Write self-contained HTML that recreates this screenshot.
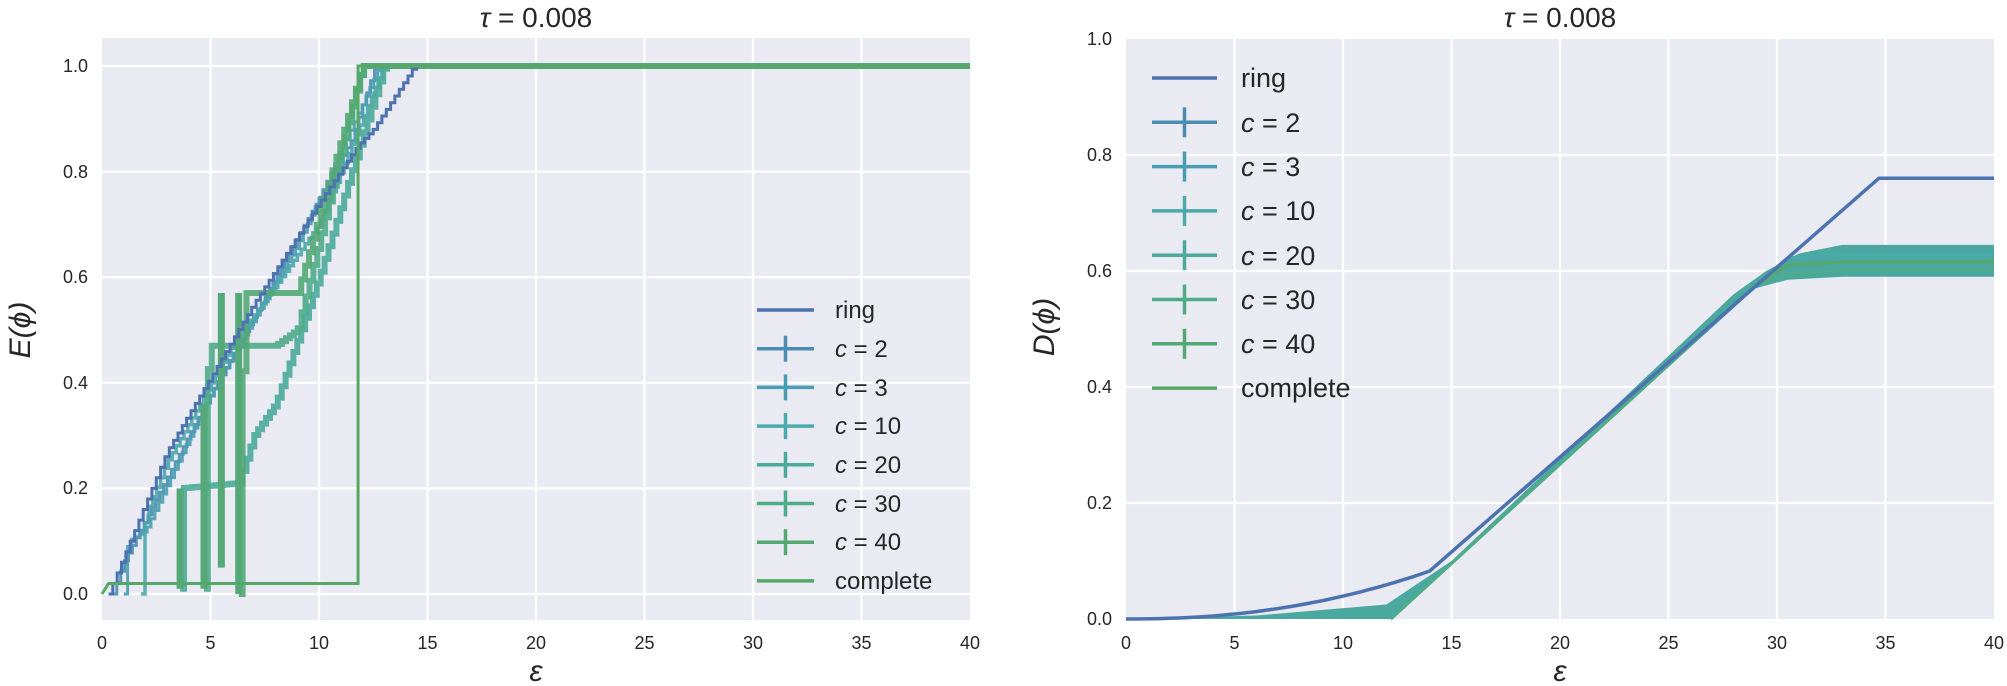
<!DOCTYPE html>
<html><head><meta charset="utf-8"><style>
html,body{margin:0;padding:0;background:#fff;}
svg{display:block;font-family:"Liberation Sans","DejaVu Sans",sans-serif;}
.t{font-size:18px;fill:#262626;}
.lg{fill:#262626;}
</style></head><body>
<svg id="s" width="2007" height="686" viewBox="0 0 2007 686" xmlns="http://www.w3.org/2000/svg">
<rect x="102" y="38" width="868" height="582" fill="#eaeaf2"/>
<g stroke="#fff" stroke-width="2.2">
<line x1="210.5" y1="38" x2="210.5" y2="620"/><line x1="319" y1="38" x2="319" y2="620"/><line x1="427.5" y1="38" x2="427.5" y2="620"/><line x1="536" y1="38" x2="536" y2="620"/><line x1="644.5" y1="38" x2="644.5" y2="620"/><line x1="753" y1="38" x2="753" y2="620"/><line x1="861.5" y1="38" x2="861.5" y2="620"/>
<line x1="102" y1="594" x2="970" y2="594"/><line x1="102" y1="488.4" x2="970" y2="488.4"/><line x1="102" y1="382.8" x2="970" y2="382.8"/><line x1="102" y1="277.2" x2="970" y2="277.2"/><line x1="102" y1="171.6" x2="970" y2="171.6"/><line x1="102" y1="66" x2="970" y2="66"/>
</g>
<g id="L"></g>
<rect x="1126" y="39" width="868" height="580" fill="#eaeaf2"/>
<g stroke="#fff" stroke-width="2.2">
<line x1="1234.5" y1="39" x2="1234.5" y2="619"/><line x1="1343" y1="39" x2="1343" y2="619"/><line x1="1451.5" y1="39" x2="1451.5" y2="619"/><line x1="1560" y1="39" x2="1560" y2="619"/><line x1="1668.5" y1="39" x2="1668.5" y2="619"/><line x1="1777" y1="39" x2="1777" y2="619"/><line x1="1885.5" y1="39" x2="1885.5" y2="619"/>
<line x1="1126" y1="503" x2="1994" y2="503"/><line x1="1126" y1="387" x2="1994" y2="387"/><line x1="1126" y1="271" x2="1994" y2="271"/><line x1="1126" y1="155" x2="1994" y2="155"/>
</g>
<g id="R"></g>
<g class="t" text-anchor="middle">
<text x="102" y="649">0</text><text x="210.5" y="649">5</text><text x="319" y="649">10</text><text x="427.5" y="649">15</text><text x="536" y="649">20</text><text x="644.5" y="649">25</text><text x="753" y="649">30</text><text x="861.5" y="649">35</text><text x="970" y="649">40</text>
<text x="1126" y="649">0</text><text x="1234.5" y="649">5</text><text x="1343" y="649">10</text><text x="1451.5" y="649">15</text><text x="1560" y="649">20</text><text x="1668.5" y="649">25</text><text x="1777" y="649">30</text><text x="1885.5" y="649">35</text><text x="1994" y="649">40</text>
</g>
<g class="t" text-anchor="end">
<text x="88" y="600">0.0</text><text x="88" y="494">0.2</text><text x="88" y="389">0.4</text><text x="88" y="283">0.6</text><text x="88" y="178">0.8</text><text x="88" y="72">1.0</text>
<text x="1112" y="625">0.0</text><text x="1112" y="509">0.2</text><text x="1112" y="393">0.4</text><text x="1112" y="277">0.6</text><text x="1112" y="161">0.8</text><text x="1112" y="45">1.0</text>
</g>
<g fill="#262626" font-size="28" text-anchor="middle">
<text x="536" y="27"><tspan font-style="italic">τ</tspan> = 0.008</text>
<text x="1560" y="27"><tspan font-style="italic">τ</tspan> = 0.008</text>
</g>
<g fill="#262626" font-size="30" font-style="italic" text-anchor="middle">
<text x="536" y="681">ε</text><text x="1560" y="681">ε</text>
<text transform="translate(30,330) rotate(-90)">E(ϕ)</text>
<text transform="translate(1054,327) rotate(-90)">D(ϕ)</text>
</g>
<g id="LG1"></g>
<g id="LG2"></g>
<g fill="#262626" font-size="24">
<text x="835" y="318">ring</text>
<text x="835" y="357"><tspan font-style="italic">c</tspan> = 2</text>
<text x="835" y="396"><tspan font-style="italic">c</tspan> = 3</text>
<text x="835" y="434"><tspan font-style="italic">c</tspan> = 10</text>
<text x="835" y="473"><tspan font-style="italic">c</tspan> = 20</text>
<text x="835" y="512"><tspan font-style="italic">c</tspan> = 30</text>
<text x="835" y="550"><tspan font-style="italic">c</tspan> = 40</text>
<text x="835" y="589">complete</text>
</g>
<g fill="#262626" font-size="27">
<text x="1241" y="87">ring</text>
<text x="1241" y="132"><tspan font-style="italic">c</tspan> = 2</text>
<text x="1241" y="176"><tspan font-style="italic">c</tspan> = 3</text>
<text x="1241" y="220"><tspan font-style="italic">c</tspan> = 10</text>
<text x="1241" y="265"><tspan font-style="italic">c</tspan> = 20</text>
<text x="1241" y="309"><tspan font-style="italic">c</tspan> = 30</text>
<text x="1241" y="353"><tspan font-style="italic">c</tspan> = 40</text>
<text x="1241" y="397">complete</text>
</g>
</svg>
<script>
var NS="http://www.w3.org/2000/svg";
function el(p,t,a){var e=document.createElementNS(NS,t);for(var k in a)e.setAttribute(k,a[k]);p.appendChild(e);return e;}
var cols=["#4c72b0","#4b8db0","#4a9db0","#4aa9ab","#4aab9a","#4fac88","#53a874","#55a868"];
var L=document.getElementById("L"),R=document.getElementById("R");
function LX(x){return 102+x*21.7;} function LY(y){return 594-y*528;}
function RX(x){return 1126+x*21.7;} function RY(y){return 619-y*580;}
function interp(pts,x){for(var i=1;i<pts.length;i++){if(x<=pts[i][0]){var a=pts[i-1],b=pts[i];if(b[0]==a[0])return b[1];return a[1]+(b[1]-a[1])*(x-a[0])/(b[0]-a[0]);}}return pts[pts.length-1][1];}
function stairs(pts,step){var x0=pts[0][0],x1=pts[pts.length-1][0];var d="M"+LX(x0)+","+LY(pts[0][1]);
for(var x=x0;x<x1;x+=step){var ny=interp(pts,x+step);d+=" H"+LX(x+step).toFixed(1)+" V"+LY(ny).toFixed(1);}
d+=" H"+LX(40);return d;}
var cs=[
 [[0.5,0],[1,0.06],[4,0.3],[8,0.6],[11.5,0.86],[12.6,1]],
 [[1,0],[1.2,0.1],[2,0.12],[5,0.38],[9,0.66],[12.8,1]],
 [[1.8,0],[2,0.15],[3,0.25],[6,0.47],[10,0.7],[13,1]],
 [[3.6,0.01],[3.6,0.2],[6.3,0.21],[7,0.3],[8,0.36],[10,0.6],[13,1]],
 [[4.7,0.01],[4.7,0.36],[5,0.47],[8,0.47],[9,0.5],[12,1]],
 [[6.3,0],[6.3,0.2],[6.6,0.57],[9,0.57],[12,1]]
];
var ws=[3,3,3.5,6,6,6];
for(var i=0;i<cs.length;i++){el(L,"path",{d:stairs(cs[i],0.18),fill:"none",stroke:cols[i+1],"stroke-width":ws[i],"stroke-opacity":0.9});}
[[3.6,0.01,0.2],[4.7,0.01,0.36],[6.3,0,0.57],[5.5,0.05,0.57]].forEach(function(v){el(L,"line",{x1:LX(v[0]),x2:LX(v[0]),y1:LY(v[1]),y2:LY(v[2]),stroke:"#55a878","stroke-width":7});});
var ring=[[0.3,0],[3,0.27],[7,0.55],[10,0.74],[11.8,0.85],[12.5,0.88],[14.4,1]];
el(L,"path",{d:stairs(ring,0.2),fill:"none",stroke:cols[0],"stroke-width":3});
el(L,"path",{d:"M"+LX(0)+","+LY(0)+" L"+LX(0.3)+","+LY(0.02)+" H"+LX(11.8)+" V"+LY(1)+" H"+LX(40),fill:"none",stroke:cols[7],"stroke-width":3});
var up=[[0,0],[6,0.006],[12,0.025],[15,0.1],[28,0.56],[29.5,0.6],[31,0.63],[33,0.645],[40,0.645]];
var lo=[[40,0.59],[33,0.59],[30.5,0.585],[29,0.57],[12.2,0],[0,0]];
var d="M";up.concat(lo).forEach(function(p,i){d+=(i?" L":"")+RX(p[0]).toFixed(1)+","+RY(p[1]).toFixed(1);});
el(R,"path",{d:d+"Z",fill:"#4aa8a0"});
[[0.6,"#4aa4a4"],[0.615,"#55a868"],[0.628,"#4aa9ab"],[0.6,"#4fac88"]].forEach(function(q){el(R,"path",{d:"M"+RX(12.2)+","+RY(0)+" L"+RX(29)+","+RY(0.575)+" L"+RX(30.5)+","+RY(q[0]-0.005)+" L"+RX(33)+","+RY(q[0])+" H"+RX(40),fill:"none",stroke:q[1],"stroke-width":3});});
var rd="M"+RX(0)+","+RY(0);for(var x=0;x<=14.4;x+=0.4){rd+=" L"+RX(x).toFixed(1)+","+RY(0.088*Math.pow(x/14.4,2.2)).toFixed(1);}
rd+=" L"+RX(34.7)+","+RY(0.76)+" H"+RX(40);
el(R,"path",{d:rd,fill:"none",stroke:cols[0],"stroke-width":3.5});
function legend(g,x1,x2,y0,dy,vh){var g=document.getElementById(g);for(var i=0;i<8;i++){var y=y0+i*dy;el(g,"line",{x1:x1,x2:x2,y1:y,y2:y,stroke:cols[i],"stroke-width":3.5});
 if(i>0&&i<7)el(g,"line",{x1:(x1+x2)/2,x2:(x1+x2)/2,y1:y-vh,y2:y+vh,stroke:cols[i],"stroke-width":3.5});}}
legend("LG1",757,814,310,38.7,13);
legend("LG2",1152,1217,78,44.3,15);
</script>
</body></html>
